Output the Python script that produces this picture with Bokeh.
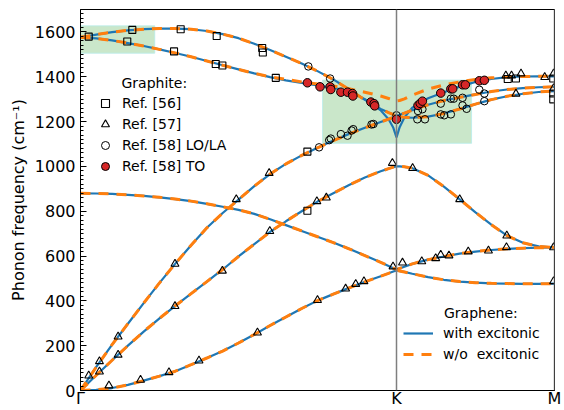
from bokeh.plotting import figure
from bokeh.models import (Range1d, SingleIntervalTicker, FixedTicker, Span, Label,
                          Legend, LegendItem)
from bokeh.embed import file_html
from bokeh.resources import INLINE

FONT = "DejaVu Sans"

# ---- path coordinate (Gamma=0, K=1, M=1.5) ----
q = [0, .05, .1, .15, .2, .25, .3, .35, .4, .45, .5, .55, .6, .65, .7, .75, .8, .85, .9, .95,
     .975, .99, 1.0, 1.01, 1.025, 1.05, 1.1, 1.15, 1.2, 1.25, 1.3, 1.35, 1.4, 1.45, 1.5]

# ---- graphene, with excitonic effects (blue) ----
za = [0, 3, 11, 25, 44, 64, 86, 115, 145, 176, 212, 250, 290, 328, 366, 401, 430, 458, 485, 510,
      523, 531, 536, 533, 529, 521, 506, 494, 486, 481, 478, 477, 476, 476, 477]
zo = [880, 879, 877, 873, 868, 862, 854, 845, 833, 820, 806, 788, 764, 738, 712, 686, 660, 632, 602, 572,
      556, 546, 540, 545, 552, 565, 584, 598, 611, 620, 627, 632, 635, 637, 638]
ta = [0, 68, 135, 200, 263, 322, 378, 432, 486, 540, 598, 653, 708, 755, 800, 843, 880, 917, 950, 978,
      990, 997, 1000, 1000, 998, 992, 960, 910, 853, 795, 740, 691, 659, 643, 638]
la = [0, 105, 205, 298, 390, 480, 566, 648, 726, 792, 852, 912, 966, 1011, 1049, 1083, 1115, 1145, 1172, 1198,
      1211, 1219, 1225, 1222, 1219, 1217, 1222, 1236, 1256, 1278, 1298, 1313, 1324, 1332, 1336]
lo = [1576, 1588, 1599, 1607, 1612, 1615, 1615, 1612, 1604, 1590, 1572, 1547, 1519, 1489, 1459, 1425, 1388, 1343, 1297, 1256,
      1240, 1231, 1225, 1230, 1238, 1251, 1275, 1294, 1308, 1321, 1334, 1343, 1349, 1353, 1355]
to = [1576, 1571, 1562, 1550, 1537, 1522, 1506, 1489, 1470, 1451, 1433, 1415, 1398, 1384, 1372, 1361, 1350, 1336, 1300, 1250,
      1210, 1172, 1129, 1175, 1218, 1262, 1304, 1331, 1356, 1377, 1390, 1398, 1401, 1402, 1402]

# ---- graphene, without excitonic effects (orange dashed) ----
za_o = za
zo_o = zo
ta_o = ta
la_o = la
lo_o = lo
to_o = [1576, 1571, 1562, 1550, 1537, 1522, 1506, 1489, 1470, 1451, 1433, 1415, 1400, 1388, 1377, 1368, 1359, 1346, 1331, 1314,
        1303, 1296, 1292, 1294, 1301, 1318, 1345, 1363, 1377, 1388, 1395, 1399, 1401, 1402, 1402]

# ---- graphite experiments ----
ref56_q = [0.026, 0.148, 0.164, 0.296, 0.317, 0.428, 0.449, 0.431, 0.575, 0.577, 0.618, 0.718, 0.718,
           1.352, 1.378, 1.496, 1.496, 1.496]
ref56_w = [1579, 1557, 1609, 1513, 1612, 1457, 1450, 1582, 1528, 1508, 1395, 802, 1066,
           1390, 1392, 1392, 1325, 1299]

ref57_q = [0.026, 0.06, 0.06, 0.09, 0.119, 0.119, 0.19, 0.28, 0.299, 0.299, 0.375, 0.449, 0.493, 0.56,
           0.597, 0.599, 0.748, 0.75, 0.778, 0.839, 0.871, 0.897, 0.987, 0.989, 1.019, 1.051, 1.08,
           1.124, 1.14, 1.166, 1.2, 1.227, 1.291, 1.348, 1.349, 1.497, 1.497, 1.346, 1.364, 1.394,
           1.469, 1.497, 1.378, 1.497]
ref57_w = [66, 130, 84, 22, 240, 159, 47, 81, 376, 565, 133, 534, 853, 258,
           970, 711, 844, 403, 860, 454, 475, 487, 1015, 553, 570, 992, 576,
           590, 605, 602, 853, 620, 624, 639, 691, 638, 487, 1405, 1405, 1414,
           1398, 1414, 1324, 1348]

ref58_lola_q = [0.721, 0.79, 0.755, 0.787, 0.792, 0.824, 0.845, 0.858, 0.863, 0.921, 0.927, 1.0,
                1.066, 1.09, 1.068, 1.082, 1.14, 1.14, 1.151, 1.172, 1.172, 1.181, 1.209, 1.209,
                1.222, 1.262, 1.278, 1.278]
ref58_lola_w = [1446, 1392, 1085, 1117, 1124, 1144, 1137, 1160, 1166, 1187, 1189, 1228,
                1210, 1210, 1247, 1255, 1280, 1232, 1228, 1232, 1302, 1302, 1306, 1272,
                1257, 1342, 1325, 1291]

ref58_to_q = [0.718, 0.758, 0.79, 0.792, 0.824, 0.845, 0.861, 0.862, 0.919, 0.929, 0.931, 1.0,
              1.068, 1.075, 1.082, 1.14, 1.172, 1.178, 1.209, 1.218, 1.262, 1.278]
ref58_to_w = [1373, 1355, 1355, 1343, 1331, 1331, 1325, 1314, 1287, 1280, 1270, 1210,
              1272, 1281, 1291, 1327, 1346, 1346, 1364, 1364, 1382, 1384]

# ---- shaded regions ----
box_left = [0.0, 0.766]
box_right = [0.235, 1.2375]
box_bottom = [1505, 1103]
box_top = [1627, 1385]

# ---- axes ----
tick_pos = [0, 1, 1.5]
tick_lab = ["Γ", "K", "M"]

p = figure(width=564, height=410, output_backend="svg", toolbar_location=None,
           x_range=Range1d(0, 1.5), y_range=Range1d(0, 1700),
           min_border_left=80, min_border_right=10, min_border_top=9, min_border_bottom=0)
p.xgrid.visible = False
p.ygrid.visible = False
p.outline_line_color = "black"
p.outline_line_width = 1
p.background_fill_color = "white"

p.quad(left=box_left, right=box_right, bottom=box_bottom, top=box_top,
       fill_color="#2ca02c", fill_alpha=0.25, line_color="#b8ecec", line_width=1, line_alpha=0.8)

p.add_layout(Span(location=1.0, dimension="height", line_color="#7f7f7f", line_width=1.5))
p.add_layout(Span(location=1.5, dimension="height", line_color="#7f7f7f", line_width=1.5))

blue = "#1f77b4"
orange = "#ff7f0e"
blue_r = None
for br in [za, zo, ta, la, lo, to]:
    blue_r = p.line(q, br, line_color=blue, line_width=2.2)
orange_r = None
for br in [za_o, zo_o, ta_o, la_o, lo_o, to_o]:
    orange_r = p.line(q, br, line_color=orange, line_width=3, line_dash="10 8")

r56 = p.scatter(ref56_q, ref56_w, marker="square", size=7, fill_color=None,
                line_color="black", line_width=1.1)
r57 = p.scatter(ref57_q, ref57_w, marker="triangle", size=8, fill_color=None,
                line_color="black", line_width=1.1)
r58a = p.scatter(ref58_lola_q, ref58_lola_w, marker="circle", size=7.5, fill_color=None,
                 line_color="black", line_width=1.0)
r58b = p.scatter(ref58_to_q, ref58_to_w, marker="circle", size=8.5, fill_color="#d62728",
                 line_color="black", line_width=1.0)

# y axis
ya = p.yaxis[0]
ya.ticker = SingleIntervalTicker(interval=200, num_minor_ticks=10)
ya.major_tick_in = 6
ya.major_tick_out = 0
ya.minor_tick_in = 3
ya.minor_tick_out = 0
ya.major_label_standoff = 5
ya.major_label_text_font = FONT
ya.major_label_text_font_size = "16px"
ya.major_label_text_color = "black"
ya.axis_label = "Phonon frequency (cm⁻¹)"
ya.axis_label_text_font = FONT
ya.axis_label_text_font_size = "16px"
ya.axis_label_text_font_style = "normal"
ya.axis_label_text_color = "black"
ya.axis_label_standoff = 4
ya.axis_line_color = "black"
ya.major_tick_line_color = "black"
ya.minor_tick_line_color = "black"

# x axis
xa = p.xaxis[0]
xa.ticker = FixedTicker(ticks=tick_pos, minor_ticks=[])
xa.major_label_overrides = {k: v for k, v in zip(tick_pos, tick_lab)}
xa.major_tick_in = 6
xa.major_tick_out = 0
xa.minor_tick_line_color = None
xa.major_label_standoff = -2
xa.major_label_text_font = FONT
xa.major_label_text_font_size = "16px"
xa.major_label_text_color = "black"
xa.axis_line_color = "black"

# legends
leg1 = Legend(items=[LegendItem(label="Ref. [56]", renderers=[r56]),
                     LegendItem(label="Ref. [57]", renderers=[r57]),
                     LegendItem(label="Ref. [58] LO/LA", renderers=[r58a]),
                     LegendItem(label="Ref. [58] TO", renderers=[r58b])],
              location=(15, 214), glyph_width=20, glyph_height=20, spacing=1, padding=0, margin=0,
              label_standoff=7, border_line_color=None, background_fill_alpha=0,
              label_text_font=FONT, label_text_font_size="14px", label_text_color="black")
p.add_layout(leg1)
p.add_layout(Label(x=41, y=308, x_units="screen", y_units="screen", text="Graphite:",
                   text_font=FONT, text_font_size="14px", text_baseline="middle", text_color="black"))

leg2 = Legend(items=[LegendItem(label="with excitonic", renderers=[blue_r]),
                     LegendItem(label="w/o  excitonic", renderers=[orange_r])],
              location=(323, 26), glyph_width=30, glyph_height=20, spacing=1, padding=0, margin=0,
              label_standoff=10, border_line_color=None, background_fill_alpha=0,
              label_text_font=FONT, label_text_font_size="14px", label_text_color="black")
p.add_layout(leg2)
p.add_layout(Label(x=363.5, y=78, x_units="screen", y_units="screen", text="Graphene:",
                   text_font=FONT, text_font_size="14px", text_baseline="middle", text_color="black"))

open("out.html", "w").write(file_html(p, INLINE))
